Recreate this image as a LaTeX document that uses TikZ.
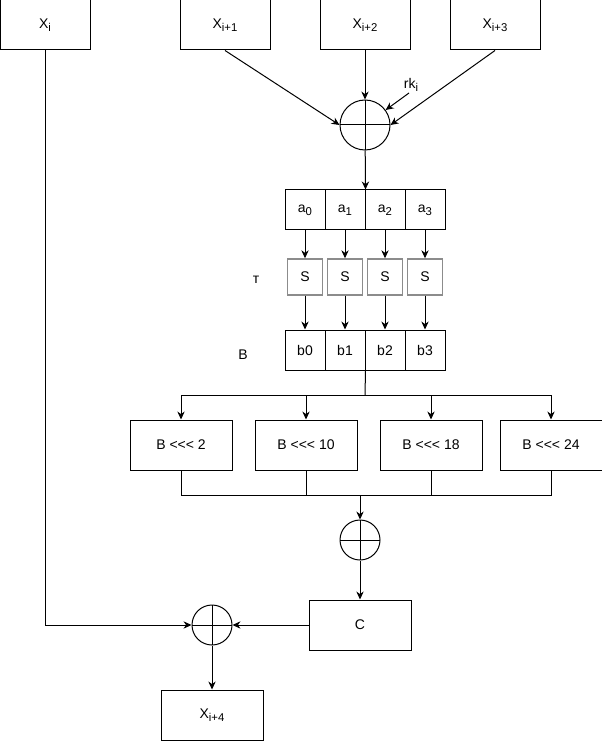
\documentclass[tikz,border=0pt]{standalone}
\usepackage{fontspec}
\setmainfont{Liberation Sans}
\usetikzlibrary{arrows.meta,positioning}
\newcommand{\lowidx}[1]{\raisebox{-0.45ex}{\fontsize{8.5}{9}\selectfont #1}}

\begin{document}
\begin{tikzpicture}[x=0.75pt, y=-0.75pt, font=\fontsize{10.5}{12}\selectfont,
          block/.style={draw, line width=0.75pt, inner sep=0pt,
                        minimum width=67.5pt, minimum height=37.5pt},
          wideblock/.style={block, minimum width=76.5pt},
          cell/.style={draw, line width=0.75pt, inner sep=0pt, minimum size=30pt},
          sbox/.style={draw=gray!90, line width=1.1pt, inner sep=0pt,
                       minimum width=26pt, minimum height=27pt},
          xorc/.style={circle, draw, line width=0.75pt, inner sep=0pt,
                       path picture={\draw[line width=0.75pt]
                         (path picture bounding box.north) -- (path picture bounding box.south)
                         (path picture bounding box.west) -- (path picture bounding box.east);}},
          edge/.style={-{Stealth[length=6pt,width=5.5pt]}, line width=0.75pt},
          wire/.style={line width=0.75pt}
      ]
        \useasboundingbox (0,0) rectangle (602,741);
        % inputs
        \node[block] (xi)  at (45,25)  {X\lowidx{i}};
        \node[block] (xi1) at (225,25) {X\lowidx{i+1}};
        \node[block] (xi2) at (365,25) {X\lowidx{i+2}};
        \node[block] (xi3) at (495,25) {X\lowidx{i+3}};
        \node[xorc, minimum size=37.5pt] (xor1) at (365,125) {};
        \node (rk) at (411,85) {rk\lowidx{i}};
        \coordinate (rkt) at (409,93);
        % tau
        \foreach \k/\x in {0/305,1/345,2/385,3/425} {
          \node[cell] (a\k) at (\x,210) {a\lowidx{\k}};
          \node[sbox] (s\k) at (\x,277) {S};
          \node[cell] (b\k) at (\x,350) {b\k};
          \draw[edge] (a\k) -- (s\k);
          \draw[edge] (s\k) -- (b\k);
        }
        \node (tau) at (256,280) {т};
        \node (blbl) at (243,355) {B};
        % L
        \node[wideblock] (r2)  at (181,445) {B <{}<{}< 2};
        \node[wideblock] (r10) at (306,445) {B <{}<{}< 10};
        \node[wideblock] (r18) at (431,445) {B <{}<{}< 18};
        \node[wideblock] (r24) at (551,445) {B <{}<{}< 24};
        \coordinate (split) at (365,395);
        \coordinate (join) at (360,495);
        \node[xorc, minimum size=30pt] (xor2) at (360,540) {};
        \node[wideblock] (c) at (360,625) {C};
        \node[xorc, minimum size=30pt] (xor3) at (212,625) {};
        \node[wideblock] (xi4) at (212,715) {X\lowidx{i+4}};

        \draw[edge] (xi1.south) -- (xor1.west);
        \draw[edge] (xi2) -- (xor1);
        \draw[edge] (xi3.south) -- (xor1.east);
        \draw[edge] (rkt) -- (xor1.36);
        \draw[edge] (xor1) -- (a1.north east);
        \draw[wire] (b1.south east) -- (split);
        \draw[wire] (r2 |- split) -- (r24 |- split);
        \draw[wire] (r2) -- (r2 |- join) -- (r24 |- join) -- (r24);
        \foreach \r in {r2,r10,r18,r24} {
          \draw[edge] (\r |- split) -- (\r);
          \draw[wire] (\r) -- (\r |- join);
        }
        \draw[edge] (join) -- (xor2);
        \draw[edge] (xor2) -- (c);
        \draw[edge] (xi.south) |- (xor3.west);
        \draw[edge] (c) -- (xor3);
        \draw[edge] (xor3) -- (xi4);
      \end{tikzpicture}
\end{document}
